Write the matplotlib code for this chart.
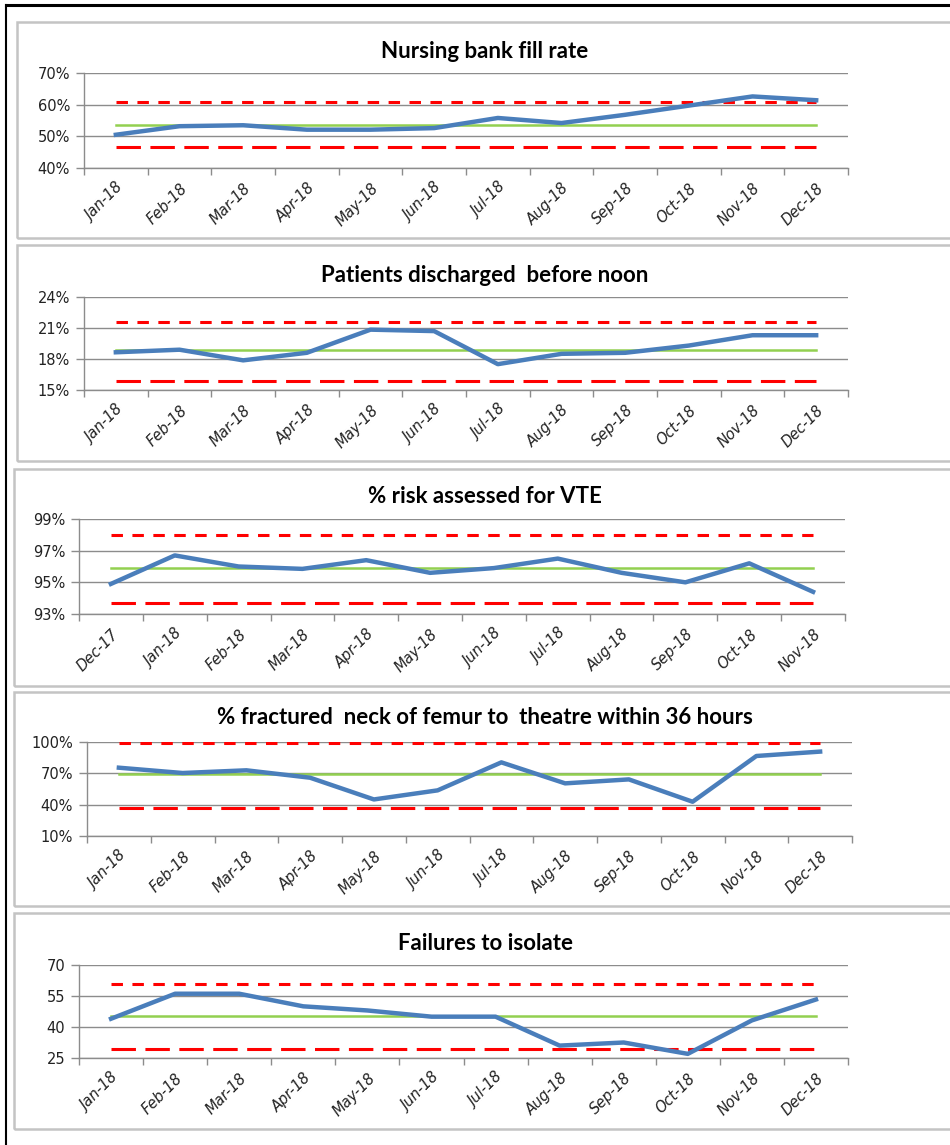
import numpy as np
import matplotlib
matplotlib.use("Agg")
import matplotlib.pyplot as plt
import matplotlib.transforms as mtransforms
from matplotlib.patches import Rectangle
from matplotlib.lines import Line2D

# ---- data ----
MONTHS_18 = ["Jan-18", "Feb-18", "Mar-18", "Apr-18", "May-18", "Jun-18",
             "Jul-18", "Aug-18", "Sep-18", "Oct-18", "Nov-18", "Dec-18"]
MONTHS_VTE = ["Dec-17", "Jan-18", "Feb-18", "Mar-18", "Apr-18", "May-18",
              "Jun-18", "Jul-18", "Aug-18", "Sep-18", "Oct-18", "Nov-18"]

bank_fill = [50.5, 53.2, 53.5, 52.1, 52.1, 52.6, 55.8, 54.2, 56.8, 59.7, 62.6, 61.4]
bank_limits = (53.6, 60.7, 46.5)          # mean, upper, lower

discharged_noon = [18.65, 18.9, 17.87, 18.6, 20.84, 20.7, 17.5, 18.5, 18.6, 19.3, 20.3, 20.3]
noon_limits = (18.84, 21.6, 15.9)

vte_assessed = [94.9, 96.7, 96.0, 95.85, 96.4, 95.6, 95.9, 96.5, 95.6, 95.0, 96.2, 94.4]
vte_limits = (95.9, 98.0, 93.7)

femur_36h = [75.4, 70.3, 72.9, 65.8, 45.0, 53.7, 80.5, 60.4, 64.2, 42.8, 86.6, 90.8]
femur_limits = (69.0, 99.0, 37.0)

isolate_fail = [44, 56.1, 56.1, 50, 48, 45, 45, 31, 32.5, 27, 43.2, 53.3]
isolate_limits = (45.3, 60.8, 29.3)

CHARTS = [
    ("Nursing bank fill rate", MONTHS_18, bank_fill, bank_limits, [40, 50, 60, 70], "{:.0f}%"),
    ("Patients discharged  before noon", MONTHS_18, discharged_noon, noon_limits, [15, 18, 21, 24], "{:.0f}%"),
    ("% risk assessed for VTE", MONTHS_VTE, vte_assessed, vte_limits, [93, 95, 97, 99], "{:.0f}%"),
    ("% fractured  neck of femur to  theatre within 36 hours", MONTHS_18, femur_36h, femur_limits,
     [10, 40, 70, 100], "{:.0f}%"),
    ("Failures to isolate", MONTHS_18, isolate_fail, isolate_limits, [25, 40, 55, 70], "{:.0f}"),
]

# ---- layout in pixels: box (left, top, bottom), axes (left, right, top, bottom), title y ----
W, H = 950, 1145
LAYOUT = [
    ((17, 22, 238), (84, 848, 73, 168), 51),
    ((17, 245, 461), (84, 848, 297, 390), 275),
    ((14, 469, 686), (79, 845, 519, 614), 497),
    ((14, 692, 906), (87, 852, 742, 836), 718),
    ((14, 913, 1129), (79, 848, 965, 1058), 943),
]

BLUE, GREEN, RED, GRID = "#4a7ebb", "#92d050", "#ff0000", "#8c8c8c"

fig = plt.figure(figsize=(W / 100, H / 100), dpi=100)

# outer black frame (top + left edges)
fig.add_artist(Line2D([6 / W, 1], [1 - 5 / H, 1 - 5 / H], color="black", lw=2.2))
fig.add_artist(Line2D([6 / W, 6 / W], [1 - 5 / H, 0], color="black", lw=1.5))

shift = mtransforms.ScaledTranslation(7 / 100, 0, fig.dpi_scale_trans)

for (title, labels, vals, (mean, ucl, lcl), yt, fmt), (box, axp, ty) in zip(CHARTS, LAYOUT):
    bl, bt, bb = box
    fig.add_artist(Rectangle((bl / W, 1 - bb / H), (W + 20 - bl) / W, (bb - bt) / H,
                             transform=fig.transFigure, fill=False, ec="#c4c4c4", lw=1.8))
    l, r, t, b = axp
    ax = fig.add_axes([l / W, 1 - b / H, (r - l) / W, (b - t) / H])
    x = np.arange(len(vals))
    n = len(vals)
    ax.plot([0, n - 1], [ucl, ucl], color=RED, lw=2.2, dashes=(3.75, 3.1))
    ax.plot([0, n - 1], [lcl, lcl], color=RED, lw=2.2, dashes=(8.0, 3.1))
    ax.plot([0, n - 1], [mean, mean], color=GREEN, lw=1.8)
    ax.plot(x, vals, color=BLUE, lw=3.2, solid_joinstyle="round", zorder=5)

    ax.set_xlim(-0.5, n - 0.5)
    ax.set_ylim(yt[0], yt[-1])
    ax.set_yticks(yt)
    ax.set_yticklabels([fmt.format(v) for v in yt], fontsize=10.5, color="#222222")
    ax.yaxis.grid(True, color=GRID, lw=1.0)
    ax.set_axisbelow(True)
    ax.set_xticks(x)
    ax.set_xticklabels(labels, rotation=45, ha="right", rotation_mode="anchor",
                       fontsize=10.5, fontstyle="italic", color="#222222")
    for lab in ax.get_xticklabels():
        lab.set_transform(lab.get_transform() + shift)
    ax.set_xticks(np.arange(-0.5, n, 1.0), minor=True)
    ax.tick_params(axis="x", which="major", length=0, pad=9)
    ax.tick_params(axis="x", which="minor", length=5, color=GRID, width=1)
    ax.tick_params(axis="y", length=6, color=GRID, width=1, pad=4)
    for s in ("top", "right"):
        ax.spines[s].set_visible(False)
    for s in ("left", "bottom"):
        ax.spines[s].set_color(GRID)
        ax.spines[s].set_linewidth(1.0)
    fig.text(485 / W, 1 - ty / H, title, ha="center", va="center",
             fontsize=16, fontweight="bold", family="Lato")

fig.savefig("out.png", dpi=100)
